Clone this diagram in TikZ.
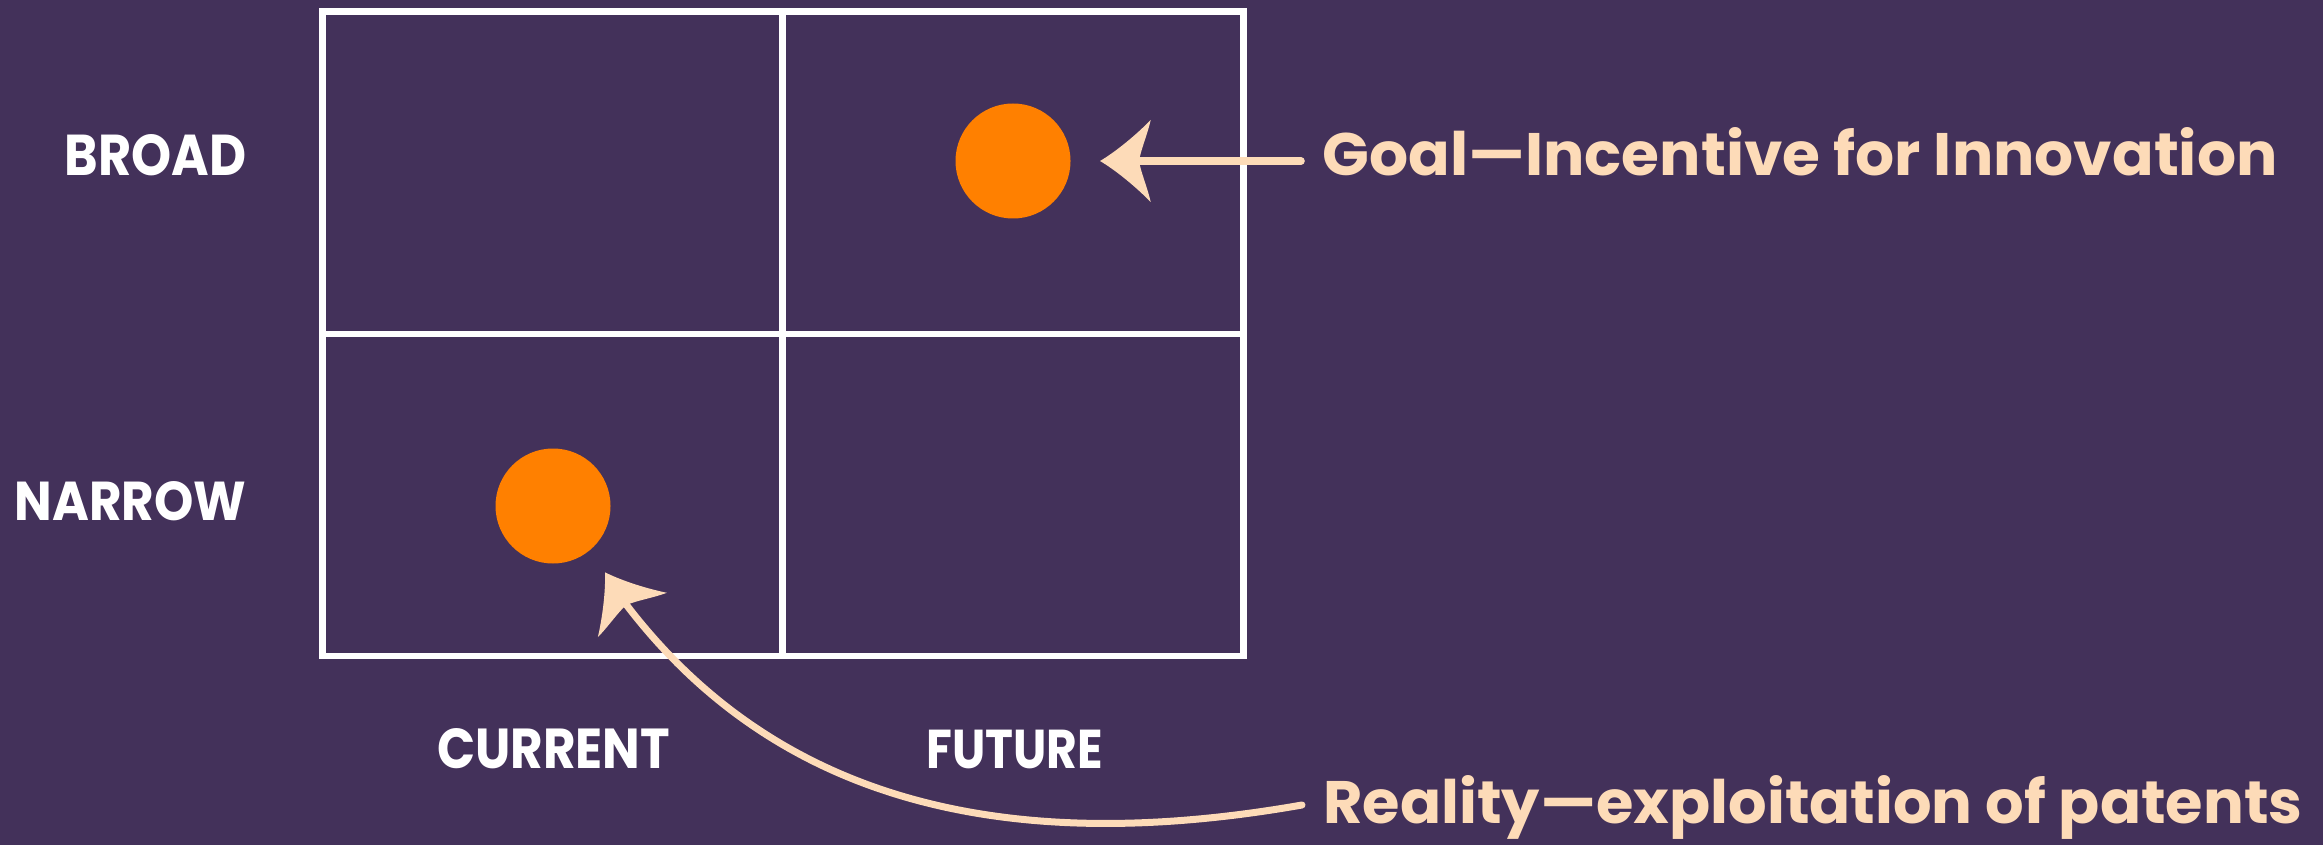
\documentclass[tikz,border=0pt]{standalone}
\usepackage{fontspec}
\setmainfont{Poppins}
\usepackage{graphicx}
\definecolor{bgpurple}{HTML}{43315A}
\definecolor{peach}{HTML}{FDDBB8}
\definecolor{dotorange}{HTML}{FF8000}
\newcommand{\fitbox}[3]{\resizebox{#1}{#2}{\bfseries #3}}
\tikzset{
  gridline/.style={draw=white, line width=3.25pt},
  lbl/.style={inner sep=0pt, text=white},
  note/.style={inner sep=0pt, text=peach},
  dot/.style={circle, fill=dotorange, minimum size=57.5pt, inner sep=0pt},
  shaft/.style={draw=peach, line width=3.8pt, line cap=round},
  barbhead/.pic={
    \fill[peach] (0,0) .. controls (12,-7) and (32,-22) .. (50.7,-41)
      .. controls (47,-25) and (41,-12) .. (39,0)
      .. controls (41,12) and (47,25) .. (50.7,41)
      .. controls (32,22) and (12,7) .. (0,0) -- cycle;
  }
}
\begin{document}
\begin{tikzpicture}[x=0.5pt,y=-0.5pt]
\fill[bgpurple] (0,0) rectangle (2323,845);
\useasboundingbox (0,0) rectangle (2323,845);

% grid
\draw[gridline] (322.5,11.5) rectangle (1243.5,656);
\draw[gridline] (782.5,11.5) -- (782.5,656);
\draw[gridline] (322.5,334) -- (1243.5,334);

% axis labels
\node[lbl, anchor=base east] (broad) at (246.7,176) {\fitbox{90.85pt}{20.5pt}{BROAD}};
\node[lbl, anchor=base east] (narrow) at (246.7,520.7) {\fitbox{115.85pt}{19.5pt}{NARROW}};
\node[lbl, anchor=base] (current) at (553.7,768.3) {\fitbox{116.5pt}{20pt}{CURRENT}};
\node[lbl, anchor=base] (future) at (1015,768.3) {\fitbox{88.3pt}{19.2pt}{FUTURE}};

% dots
\node[dot] (goaldot) at (1013,161) {};
\node[dot] (realdot) at (553,506) {};

% notes
\node[note, anchor=base west] (goal) at (1322,176) {\fitbox{477.5pt}{24pt}{Goal—Incentive for Innovation}};
\node[note, anchor=base west] (reality) at (1323,823.3) {\fitbox{489.5pt}{24pt}{Reality—exploitation of patents}};

% arrow to goal dot
\coordinate (startA) at (1301,161);
\coordinate (notchA) at (1136,161);
\coordinate (tipA) at (1100,161);
\draw[shaft] (startA) -- (notchA);
\pic at (tipA) {barbhead};

% curved arrow to reality dot
\coordinate (startB) at (1302,805);
\coordinate (notchB) at (625,603);
\coordinate (tipB) at (605,572.3);
\draw[shaft, line width=3.5pt] (startB) .. controls (1006,857) and (776,802) .. (notchB);
\pic[rotate=-57.3] at (tipB) {barbhead};
\end{tikzpicture}
\end{document}
